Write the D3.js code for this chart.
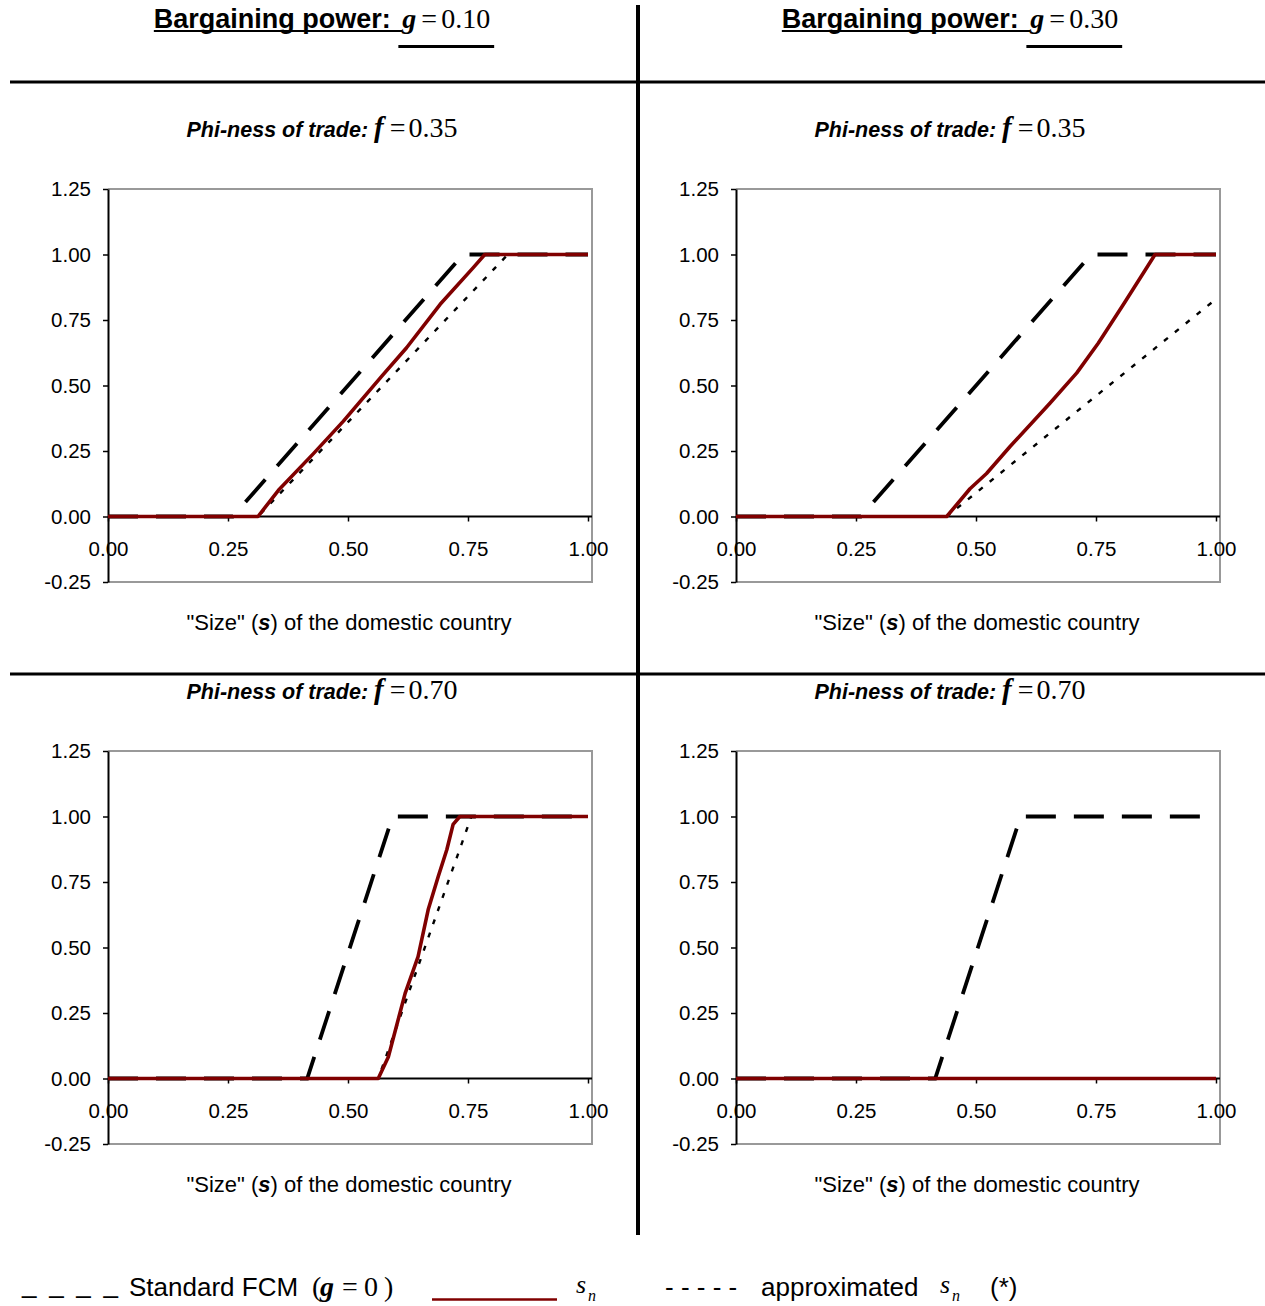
<!DOCTYPE html>
<html>
<head>
<meta charset="utf-8">
<script src="https://cdn.jsdelivr.net/npm/d3@7"></script>
<style>
  html, body { margin: 0; padding: 0; background: #fff; }
  svg text { white-space: pre; }
</style>
</head>
<body>
<svg id="chart" width="1265" height="1306"></svg>
<script>
// ---- Data -------------------------------------------------------------
const sizeTicks  = [0, 0.25, 0.5, 0.75, 1];
const shareTicks = [-0.25, 0, 0.25, 0.5, 0.75, 1, 1.25];
const bargainingPower = ["0.10", "0.30"];   // columns
const phiness = ["0.35", "0.70"];           // rows

// Standard FCM share of firms (gamma = 0), as [s, share]
const fcmPhi035 = [[0, 0], [0.26, 0], [0.74, 1], [1, 1]];
const fcmPhi070 = [[0, 0], [0.415, 0], [0.593, 1], [1, 1]];

// s_n with bargaining
const snG10Phi035 = [[0, 0], [0.3125, 0], [0.355, 0.10], [0.428, 0.24], [0.49, 0.363],
  [0.57, 0.535], [0.622, 0.644], [0.692, 0.81], [0.761, 0.95], [0.785, 1], [1, 1]];
const snG30Phi035 = [[0, 0], [0.439, 0], [0.4875, 0.106], [0.522, 0.164], [0.571, 0.267],
  [0.654, 0.432], [0.71, 0.548], [0.755, 0.662], [0.807, 0.809], [0.849, 0.93], [0.873, 1], [1, 1]];
const snG10Phi070 = [[0, 0], [0.563, 0], [0.584, 0.082], [0.619, 0.325], [0.646, 0.465],
  [0.667, 0.644], [0.688, 0.771], [0.706, 0.874], [0.719, 0.97], [0.733, 1], [1, 1]];
const snG30Phi070 = [[0, 0], [1, 0]];

// approximated s_n (*)
const apG10Phi035 = [[0, 0], [0.3125, 0], [0.833, 1], [1, 1]];
const apG30Phi035 = [[0, 0], [0.439, 0], [1, 0.83]];
const apG10Phi070 = [[0, 0], [0.563, 0], [0.757, 1], [1, 1]];
const apG30Phi070 = [[0, 0], [1, 0]];

const panelSeries = [
  [ {fcm: fcmPhi035, sn: snG10Phi035, ap: apG10Phi035},
    {fcm: fcmPhi035, sn: snG30Phi035, ap: apG30Phi035} ],
  [ {fcm: fcmPhi070, sn: snG10Phi070, ap: apG10Phi070},
    {fcm: fcmPhi070, sn: snG30Phi070, ap: apG30Phi070} ]
];

// ---- Styling ----------------------------------------------------------
const SANS  = "'Liberation Sans', Arial, Helvetica, sans-serif";
const SERIF = "'Liberation Serif', 'Times New Roman', Times, serif";
const RED = "#800000";
const fmt2 = v => d3.format(".2f")(v).replace("\u2212", "-");

const svg = d3.select("#chart");

// place a run of differently styled text pieces left to right
function textRun(g, pieces, x, y) {
  const spans = [];
  let cx = x;
  pieces.forEach(p => {
    cx += p.gap || 0;
    const t = g.append("text")
      .attr("x", cx).attr("y", y + (p.dy || 0))
      .attr("font-family", p.family || SANS)
      .attr("font-size", p.size)
      .attr("font-weight", p.weight || "normal")
      .attr("font-style", p.style || "normal")
      .attr("fill", "#000")
      .text(p.text);
    const w = t.node().getComputedTextLength();
    spans.push({x0: cx, x1: cx + w, node: t});
    cx += w;
  });
  return spans;
}

// ---- Column headers and dividers ---------------------------------------
const colOffset = [0, 628];
const rowOffset = [0, 562];
const headerCenter = 322;

bargainingPower.forEach((gv, c) => {
  const g = svg.append("g");
  const spans = textRun(g, [
    {text: "Bargaining power: ", size: 27, weight: "bold"},
    {text: "g", family: SERIF, size: 28, weight: "bold", style: "italic", gap: 4},
    {text: "=", family: SERIF, size: 28, gap: 5},
    {text: gv, family: SERIF, size: 28, gap: 4}
  ], 0, 28);
  const total = spans[spans.length - 1].x1;
  const shift = headerCenter + colOffset[c] - total / 2;
  g.attr("transform", `translate(${shift},0)`);
  g.append("line").attr("x1", 0).attr("x2", spans[1].x0)
    .attr("y1", 31).attr("y2", 31).attr("stroke", "#000").attr("stroke-width", 2.2);
  g.append("line").attr("x1", spans[1].x0 - 4).attr("x2", total + 4)
    .attr("y1", 46.5).attr("y2", 46.5).attr("stroke", "#000").attr("stroke-width", 3);
});

svg.append("line").attr("x1", 10).attr("x2", 1265).attr("y1", 82).attr("y2", 82)
  .attr("stroke", "#000").attr("stroke-width", 3);
svg.append("line").attr("x1", 10).attr("x2", 1265).attr("y1", 674).attr("y2", 674)
  .attr("stroke", "#000").attr("stroke-width", 3);
svg.append("line").attr("x1", 638).attr("x2", 638).attr("y1", 5).attr("y2", 1235)
  .attr("stroke", "#000").attr("stroke-width", 4);

// ---- Panels ------------------------------------------------------------
phiness.forEach((phi, r) => {
  bargainingPower.forEach((gv, c) => {
    const ox = colOffset[c], oy = rowOffset[r];
    const g = svg.append("g").attr("transform", `translate(${ox},${oy})`);

    const x = d3.scaleLinear().domain([0, 1]).range([108, 588]);
    const y = d3.scaleLinear().domain([-0.25, 1.25]).range([582, 189]);
    const frameRight = 592;

    // subtitle
    const sg = g.append("g");
    const sp = textRun(sg, [
      {text: "Phi-ness of trade: ", size: 21.5, weight: "bold", style: "italic"},
      {text: "f", family: SERIF, size: 29, weight: "bold", style: "italic"},
      {text: "=", family: SERIF, size: 28, gap: 6},
      {text: phi, family: SERIF, size: 28, gap: 3}
    ], 0, 137);
    sg.attr("transform", `translate(${322 - sp[sp.length - 1].x1 / 2},0)`);

    // plot frame (grey top, right, bottom)
    g.append("path")
      .attr("d", `M${x(0)},${y(1.25)}H${frameRight}V${y(-0.25)}H${x(0)}`)
      .attr("fill", "none").attr("stroke", "#999").attr("stroke-width", 2);

    // y axis
    const ya = g.append("g").attr("transform", `translate(${x(0)},0)`)
      .call(d3.axisLeft(y).tickValues(shareTicks).tickFormat(fmt2)
        .tickSize(5).tickPadding(12).tickSizeOuter(0));
    ya.select(".domain").attr("stroke", "#000").attr("stroke-width", 2);
    ya.selectAll(".tick line").attr("stroke", "#000").attr("stroke-width", 1.5);
    ya.selectAll(".tick text").attr("font-family", SANS).attr("font-size", 20.5).attr("fill", "#000");

    // x axis along share = 0
    const xa = g.append("g").attr("transform", `translate(0,${y(0)})`)
      .call(d3.axisBottom(x).tickValues(sizeTicks).tickFormat(fmt2)
        .tickSize(5).tickPadding(20).tickSizeOuter(0));
    xa.select(".domain").attr("stroke", "#000").attr("stroke-width", 2)
      .attr("d", `M${x(0)},0H${frameRight}`);
    xa.selectAll(".tick line").attr("stroke", "#000").attr("stroke-width", 1.5);
    xa.selectAll(".tick text").attr("font-family", SANS).attr("font-size", 20.5).attr("fill", "#000");

    // x axis title
    const tg = g.append("g");
    const tp = textRun(tg, [
      {text: "\"Size\" (", size: 22},
      {text: "s", size: 22, weight: "bold", style: "italic"},
      {text: ") of the domestic country", size: 22}
    ], 0, 630);
    tg.attr("transform", `translate(${349 - tp[tp.length - 1].x1 / 2},0)`);

    // series
    const line = d3.line().x(d => x(d[0])).y(d => y(d[1]));
    const s = panelSeries[r][c];
    g.append("path").datum(s.fcm).attr("d", line)
      .attr("fill", "none").attr("stroke", "#000").attr("stroke-width", 3.8)
      .attr("stroke-dasharray", "30,18");
    g.append("path").datum(s.ap).attr("d", line)
      .attr("fill", "none").attr("stroke", "#000").attr("stroke-width", 2.4)
      .attr("stroke-dasharray", "5,9");
    g.append("path").datum(s.sn).attr("d", line)
      .attr("fill", "none").attr("stroke", RED).attr("stroke-width", 3.6)
      .attr("stroke-linejoin", "round");
  });
});

// ---- Legend --------------------------------------------------------------
const lg = svg.append("g");
lg.append("text").attr("x", 22).attr("y", 1293).attr("font-family", SANS).attr("font-size", 26)
  .attr("textLength", 96).attr("lengthAdjust", "spacing").text("_ _ _ _");
textRun(lg, [{text: "Standard FCM", size: 26}], 129, 1296);
textRun(lg, [{text: "(", family: SERIF, size: 28}], 312, 1296);
textRun(lg, [{text: "g", family: SERIF, size: 28, weight: "bold", style: "italic"}], 320, 1296);
textRun(lg, [{text: "=", family: SERIF, size: 28}], 342, 1296);
textRun(lg, [{text: "0", family: SERIF, size: 28}], 364, 1296);
textRun(lg, [{text: ")", family: SERIF, size: 28}], 384, 1296);
lg.append("line").attr("x1", 432).attr("x2", 557).attr("y1", 1299.5).attr("y2", 1299.5)
  .attr("stroke", RED).attr("stroke-width", 2.5);
textRun(lg, [{text: "s", family: SERIF, size: 26, style: "italic"}], 576, 1293);
textRun(lg, [{text: "n", family: SERIF, size: 16, style: "italic"}], 588, 1301);
textRun(lg, [{text: "- - - - -", size: 26}], 665, 1296);
textRun(lg, [{text: "approximated", size: 26}], 761, 1296);
textRun(lg, [{text: "s", family: SERIF, size: 26, style: "italic"}], 940, 1293);
textRun(lg, [{text: "n", family: SERIF, size: 16, style: "italic"}], 952, 1301);
textRun(lg, [{text: "(*)", size: 26}], 990, 1296);
</script>
</body>
</html>
